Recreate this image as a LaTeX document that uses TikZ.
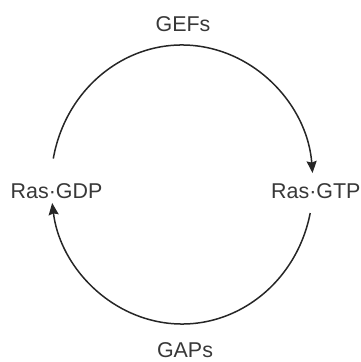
\documentclass[tikz,border=0pt]{standalone}
\usepackage{fontspec}
\setmainfont{Liberation Sans}
\usepackage{tikz}
\usetikzlibrary{arrows.meta,calc}

\begin{document}
\begin{tikzpicture}[x=1bp,y=1bp,
  lbl/.style={font=\fontsize{21.5}{25}\selectfont,text=black!78,inner sep=0pt,anchor=base},
  cyc/.style={line width=1.5bp,draw=black!85,-{Stealth[length=12bp,width=10bp,inset=1.5bp]}}]
\useasboundingbox (0,0) rectangle (361,362);
% cycle is a slightly tall ellipse, centre (182,177.5), radii 131 x 139.5
\coordinate (c) at (182,177.5);
\node[lbl] (gefs) at (183,330.5) {GEFs};
\node[lbl] (gaps) at (185,5) {GAPs};
\node[lbl] (gdp) at (56.5,164) {Ras·GDP};
\node[lbl,anchor=base west] (gtp) at (271,164) {Ras·GTP};
% end points of the two arcs
\coordinate (gdpout) at ($(c)+(169.3:131 and 139.5)$);
\coordinate (gtpout) at ($(c)+(-11.8:131 and 139.5)$);
% activation (top) and hydrolysis (bottom)
\draw[cyc] (gdpout) arc[start angle=169.3,end angle=4.7,x radius=131,y radius=139.5];
\draw[cyc] (gtpout) arc[start angle=-11.8,end angle=-172.4,x radius=131,y radius=139.5];
\end{tikzpicture}
\end{document}
